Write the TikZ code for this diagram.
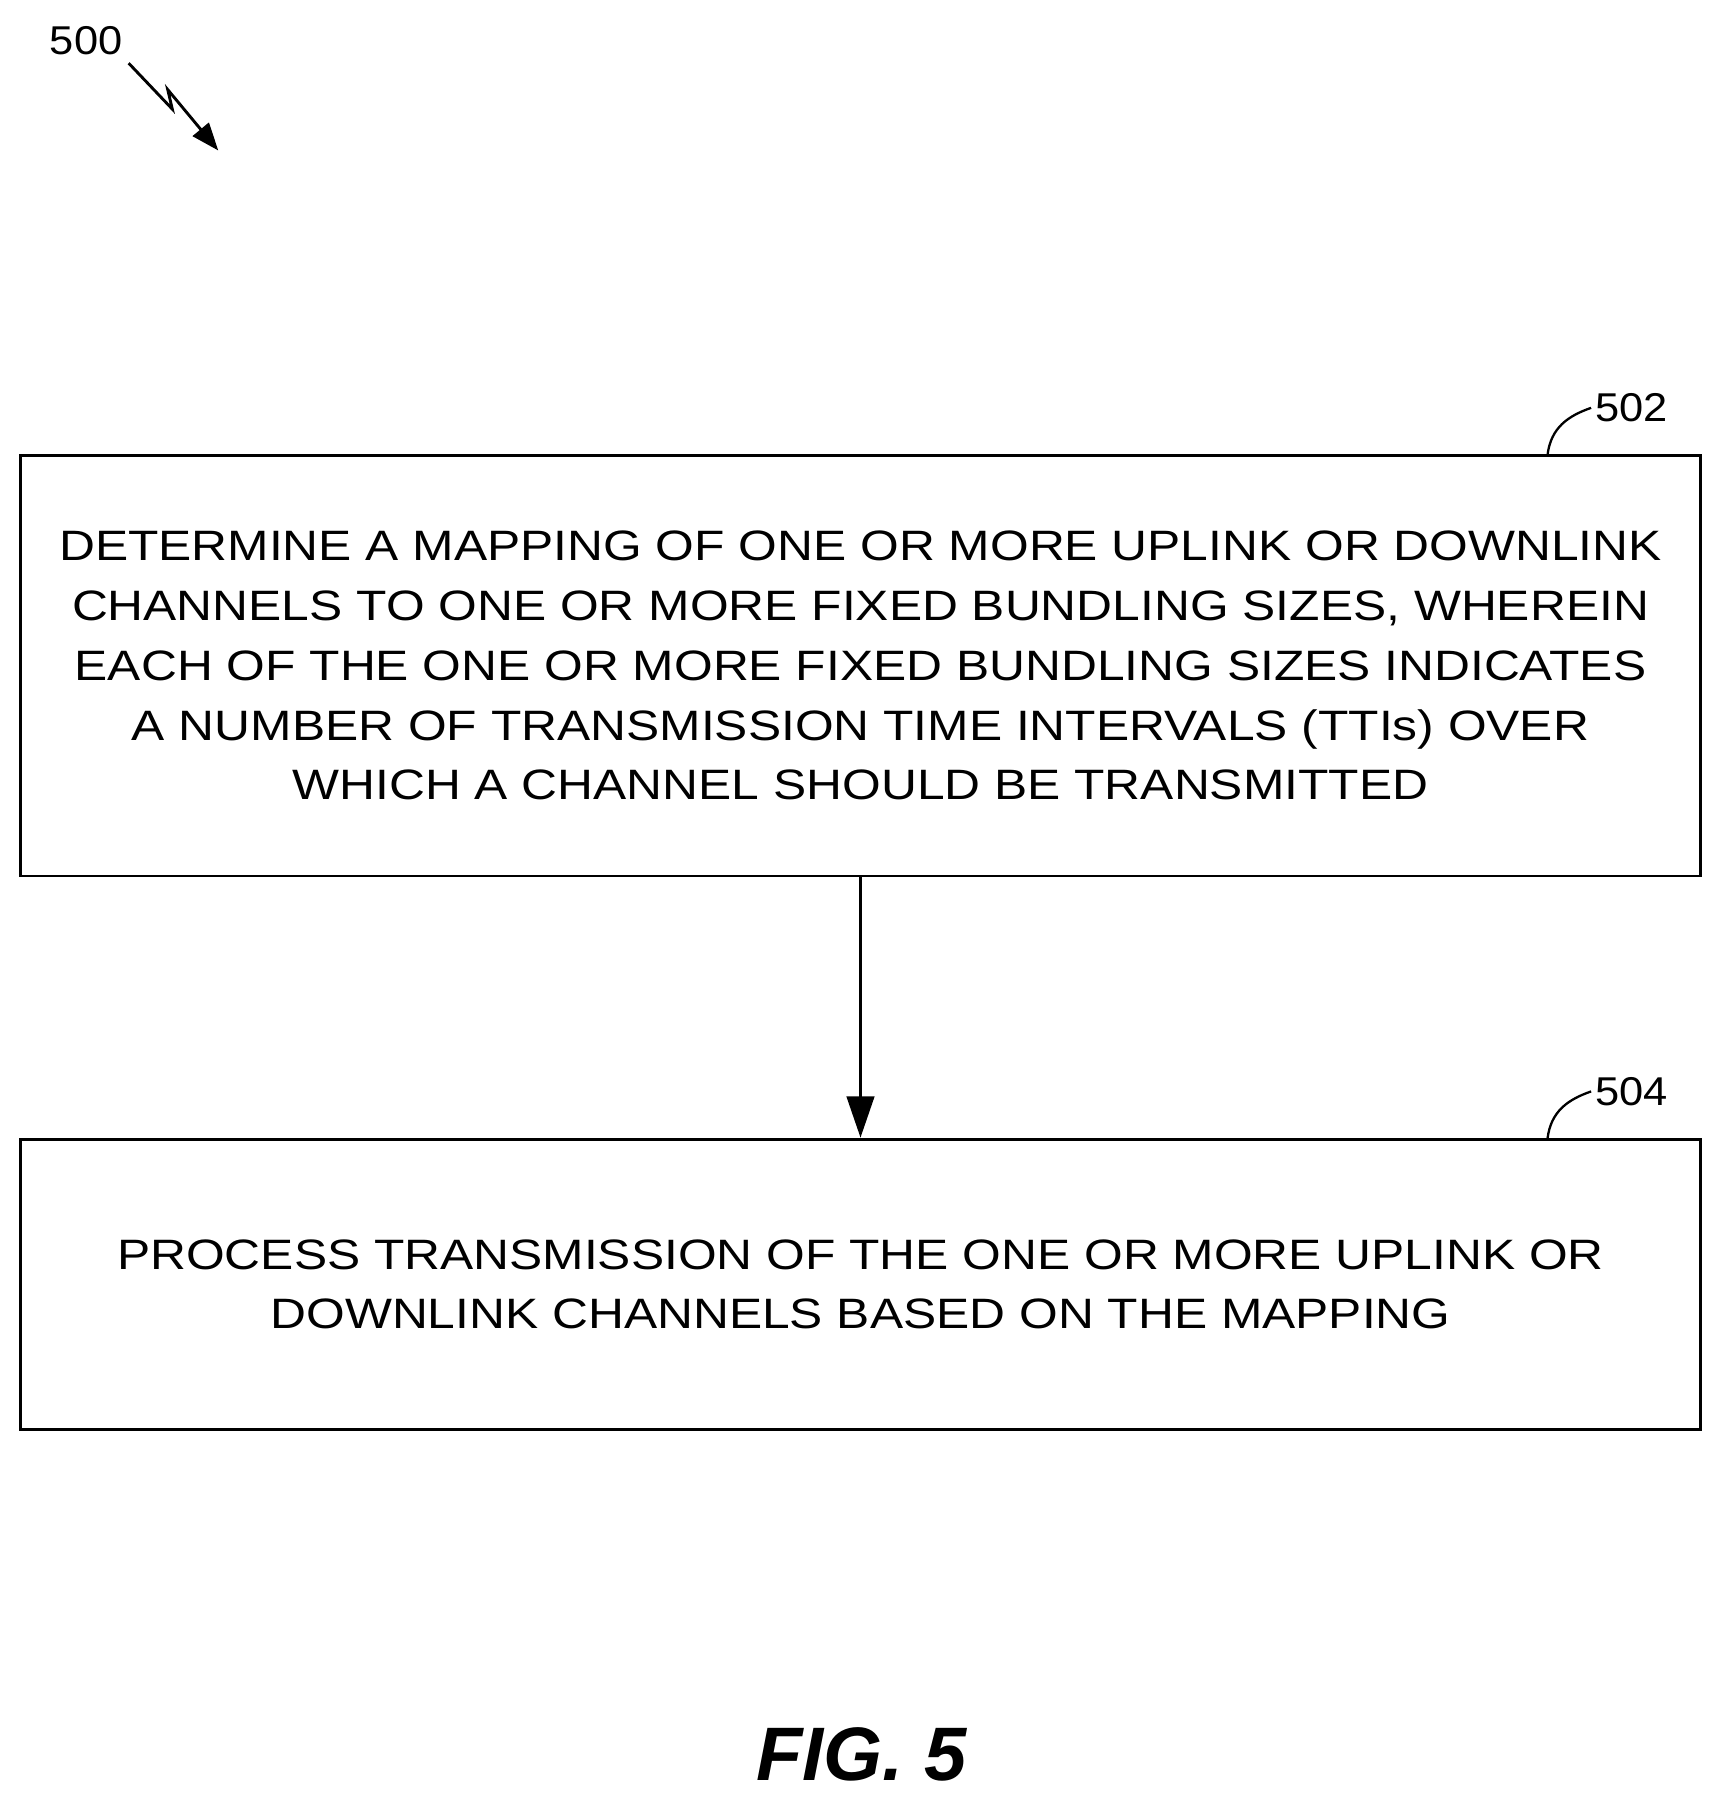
\documentclass[tikz,border=0pt]{standalone}
\usepackage{fontspec}
\setmainfont{Liberation Sans}
\newfontfamily\wide[FakeStretch=1.17]{Liberation Sans}
\newfontfamily\lblfont[FakeStretch=1.08]{Liberation Sans}
\usetikzlibrary{arrows.meta}
\begin{document}
\begin{tikzpicture}[x=1pt,y=-1pt,
  stepbox/.style={draw,line width=2.5pt,minimum width=1462pt,inner sep=0pt,align=center,font=\wide\fontsize{37}{52}\selectfont},
  lbl/.style={font=\lblfont\fontsize{35}{40}\selectfont},
  conn/.style={line width=2.5pt,-{Triangle[length=36pt,width=24pt]}}]
\useasboundingbox (0,0) rectangle (1500,1572);
\node[stepbox,minimum height=366pt] (b1) at (749,579.5) {DETERMINE A MAPPING OF ONE OR MORE UPLINK OR DOWNLINK\\CHANNELS TO ONE OR MORE FIXED BUNDLING SIZES, WHEREIN\\EACH OF THE ONE OR MORE FIXED BUNDLING SIZES INDICATES\\A NUMBER OF TRANSMISSION TIME INTERVALS (TTIs) OVER\\WHICH A CHANNEL SHOULD BE TRANSMITTED};
\node[stepbox,minimum height=253pt] (b2) at (749,1118) {PROCESS TRANSMISSION OF THE ONE OR MORE UPLINK OR\\DOWNLINK CHANNELS BASED ON THE MAPPING};
\draw[conn] (b1.south) -- (b2.north);
\node[lbl] (l502) at (1420,355) {502};
\node[lbl] (l504) at (1420,950) {504};
\draw[line width=2pt] (1347,396) .. controls (1350,372) and (1365,362) .. (l502.west);
\draw[line width=2pt] (1347,991) .. controls (1350,967) and (1365,957) .. (l504.west);
\node[lbl] (l500) at (75,35) {500};
\coordinate (z1) at (112,55);
\coordinate (z2) at (190,131);
\draw[line width=2.5pt,-{Triangle[length=24pt,width=18pt]}] (z1) -- (150,95) -- (146,78) -- (z2);
\node[font=\fontsize{66}{70}\selectfont\bfseries\itshape] (fig) at (750,1527) {FIG. 5};
\end{tikzpicture}
\end{document}
